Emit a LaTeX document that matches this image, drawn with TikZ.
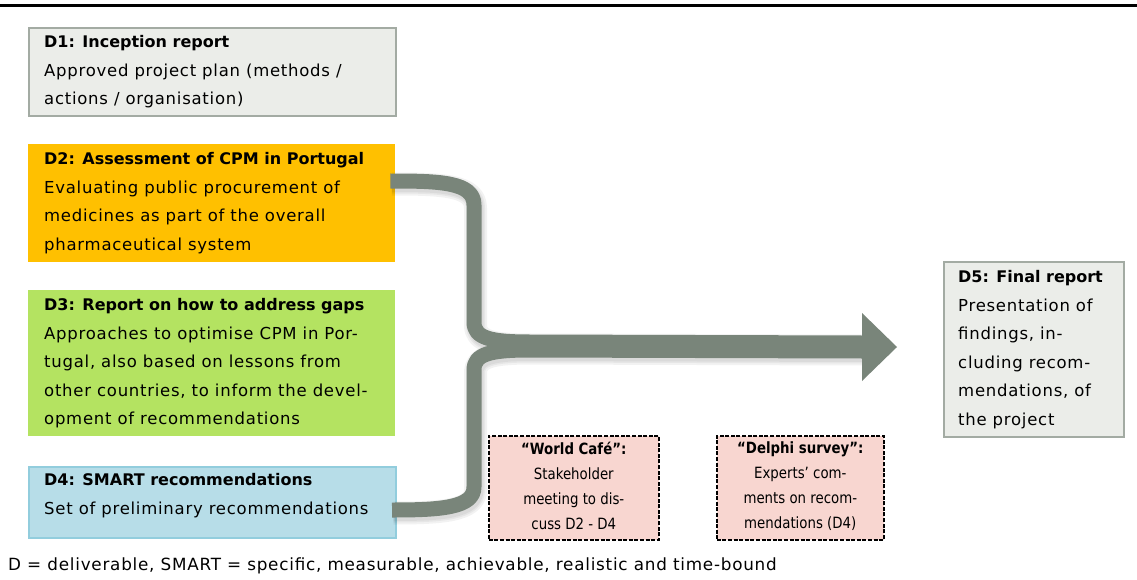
\documentclass[tikz,border=0pt]{standalone}
\usepackage{fontspec}
\setmainfont{DejaVu Sans}
\newfontfamily\bodyf{DejaVu Sans}[LetterSpace=4.5]
\newfontfamily\notef{DejaVu Sans}[FakeStretch=0.86]
\usetikzlibrary{calc}
\newcommand\hdfont{\normalfont\bfseries\fontsize{16}{28.5}\selectfont}
\newcommand\hdsmall{\bfseries}

\definecolor{armgray}{RGB}{121,133,122}
\definecolor{cardgray}{RGB}{235,237,233}
\definecolor{cardline}{RGB}{163,171,163}
\definecolor{amber}{RGB}{255,192,0}
\definecolor{leaf}{RGB}{180,227,97}
\definecolor{sky}{RGB}{183,221,232}
\definecolor{skyline}{RGB}{146,205,221}
\definecolor{blush}{RGB}{248,214,208}

\begin{document}
\begin{tikzpicture}[x=1pt,y=-1pt,
  card/.style={rectangle, anchor=north west, inner sep=0pt},
  body/.style={align=left, inner sep=0pt, font=\bodyf\fontsize{16.5}{28.5}\selectfont},
  note/.style={align=center, inner sep=0pt, font=\notef\fontsize{15.5}{25}\selectfont},
  event/.style={card, fill=blush, draw=black, line width=1.6pt, dash pattern=on 4pt off 1.6pt,
                minimum height=104pt},
  arm/.style={draw=armgray, line width=15pt, line cap=butt, line join=round},
  armshade/.style={draw=black, line cap=butt, line join=round, opacity=0.05,
                   transform canvas={shift={(1.5pt,-3pt)}}}]
\useasboundingbox (0,0) rectangle (1137,580);

% heading rule
\draw[line width=3.5pt] (0,5.5) -- (1137,5.5);

% deliverable cards
\node[card, fill=cardgray, draw=cardline, line width=2pt,
      minimum width=367pt, minimum height=88pt] (d1) at (28,27) {};
\node[card, fill=amber, minimum width=367pt, minimum height=118pt] (d2) at (28,144) {};
\node[card, fill=leaf, minimum width=367pt, minimum height=146pt] (d3) at (28,290) {};
\node[card, fill=sky, draw=skyline, line width=2pt,
      minimum width=367pt, minimum height=71pt] (d4) at (28,466) {};
\node[card, fill=cardgray, draw=cardline, line width=2pt,
      minimum width=180pt, minimum height=175pt] (d5) at (943,261) {};

\node[body, anchor=west] (d1t) at ($(d1.west)+(16,0)$)
  {{\hdfont D1: Inception report}\\Approved project plan (methods /\\actions / organisation)};
\node[body, anchor=west] (d2t) at ($(d2.west)+(16,0)$)
  {{\hdfont D2: Assessment of CPM in Portugal}\\Evaluating public procurement of\\medicines as part of the overall\\pharmaceutical system};
\node[body, anchor=west] (d3t) at ($(d3.west)+(16,0)$)
  {{\hdfont D3: Report on how to address gaps}\\Approaches to optimise CPM in Por-\\tugal, also based on lessons from\\other countries, to inform the devel-\\opment of recommendations};
\node[body, anchor=west] (d4t) at ($(d4.west)+(16,-7)$)
  {{\hdfont D4: SMART recommendations}\\Set of preliminary recommendations};
\node[body, anchor=west] (d5t) at ($(d5.west)+(15,0)$)
  {{\hdfont D5: Final report}\\Presentation of\\findings, in-\\cluding recom-\\mendations, of\\the project};

% consultation events
\node[event, minimum width=170pt] (wc) at (488,435) {};
\node[event, minimum width=167pt] (ds) at (716,435) {};
\node[note] (wct) at ($(wc.center)+(0,-1.5)$)
  {{\hdsmall “World Café”:}\\Stakeholder\\meeting to dis-\\cuss D2 - D4};
\node[note] (dst) at ($(ds.center)+(0,-1.5)$)
  {{\hdsmall “Delphi survey”:}\\Experts’ com-\\ments on recom-\\mendations (D4)};

% connector anchors
\coordinate (a2) at ($(d2.north east)+(-5,37)$);
\coordinate (a4) at ($(d4.north east)+(-5,44)$);
\coordinate (tip) at ($(d5.west)+(-46,-2.5)$);
\coordinate (hbt) at ($(tip)+(-35,-34)$);
\coordinate (hbb) at ($(tip)+(-35,34)$);
\coordinate (su) at ($(tip)+(-35,-4)$);
\coordinate (sl) at ($(tip)+(-35,4)$);

% soft shadow under the brace
\foreach \w in {23,19,16}{
  \draw[armshade, line width=\w pt] (a2) .. controls (440,181) and (474,182) .. (474,205)
    -- (474,322) .. controls (474,338) and (490,342) .. (530,342) -- (su);
  \draw[armshade, line width=\w pt] (a4) .. controls (440,510) and (474,508) .. (474,487)
    -- (474,370) .. controls (474,354) and (490,350) .. (530,350) -- (sl);
}

% brace merging D2 and D4 into the arrow towards D5
\draw[arm] (a2) .. controls (440,181) and (474,182) .. (474,205)
  -- (474,322) .. controls (474,338) and (490,342) .. (530,342) -- (su);
\draw[arm] (a4) .. controls (440,510) and (474,508) .. (474,487)
  -- (474,370) .. controls (474,354) and (490,350) .. (530,350) -- (sl);
\fill[armgray] (hbt) -- (tip) -- (hbb) -- cycle;

% footnote
\node[body, anchor=west, font=\bodyf\fontsize{16.8}{20}\selectfont] (fn) at (8,566)
  {D = deliverable, SMART = specific, measurable, achievable, realistic and time-bound};
\end{tikzpicture}
\end{document}
